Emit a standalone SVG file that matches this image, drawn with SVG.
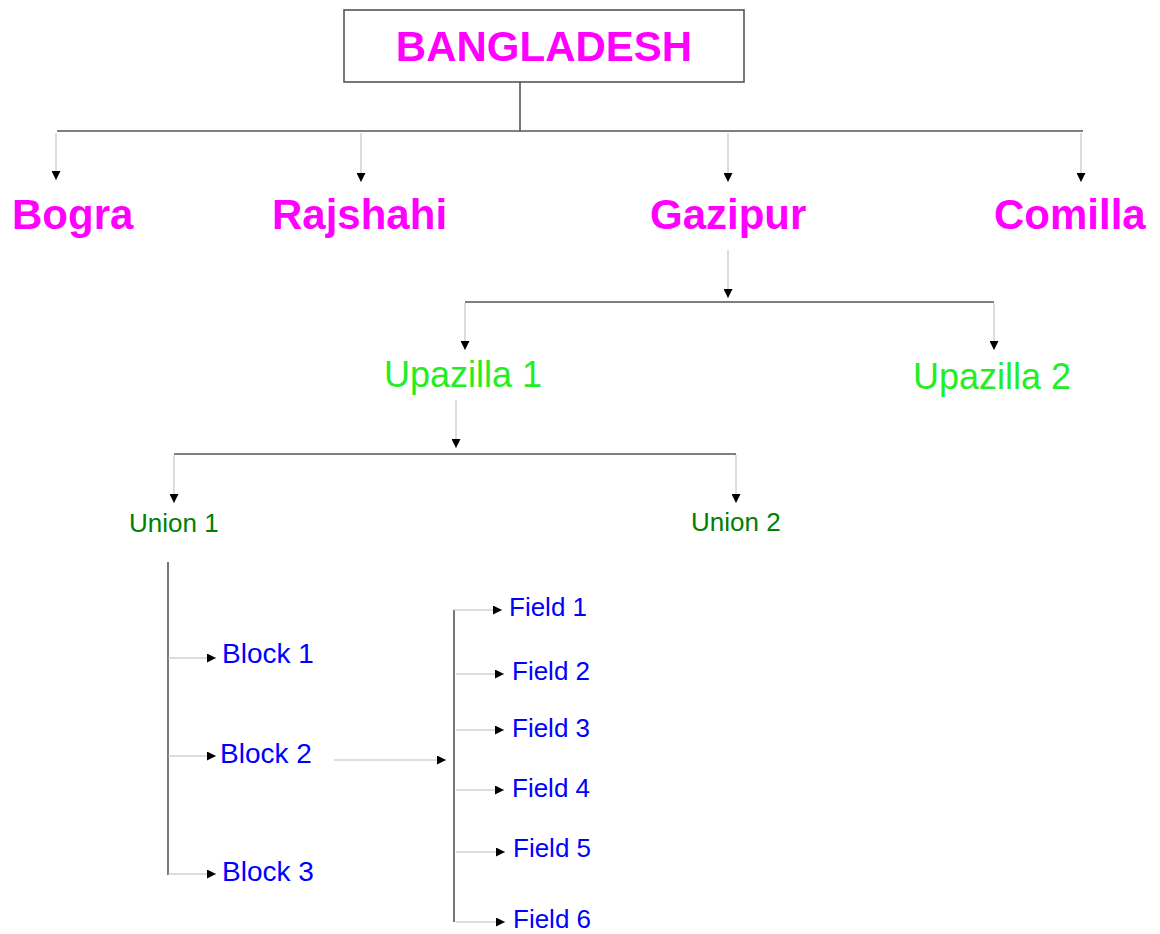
<svg xmlns="http://www.w3.org/2000/svg" width="1160" height="934" viewBox="0 0 1160 934">
  <style>
    text { font-family: "Liberation Sans", Arial, sans-serif; }
    .district { fill: #ff00ff; font-weight: bold; font-size: 42px; }
    .upazilla { fill: #22ee22; font-size: 36px; }
    .union { fill: #008000; font-size: 26px; }
    .block { fill: #0000ff; font-size: 28px; }
    .field { fill: #0000ff; font-size: 26px; }
    .trunk { stroke: #555; stroke-width: 1.6; fill: none; }
    .drop { stroke: #bbb; stroke-width: 1; fill: none; marker-end: url(#arrow); }
    .plain { stroke: #bbb; stroke-width: 1; fill: none; }
  </style>
  <defs>
    <marker id="arrow" markerUnits="userSpaceOnUse" markerWidth="9" markerHeight="9" refX="9" refY="4.5" orient="auto">
      <path d="M0,0 L9,4.5 L0,9 z" fill="#000"/>
    </marker>
  </defs>
  <rect width="1160" height="934" fill="#fff"/>

  <g id="connectors">
    <!-- Bangladesh to districts -->
    <line class="trunk" x1="520" y1="82" x2="520" y2="131"/>
    <line class="trunk" x1="57" y1="131" x2="1083" y2="131"/>
    <line class="drop" x1="56" y1="133" x2="56" y2="180"/>
    <line class="drop" x1="361" y1="133" x2="361" y2="182"/>
    <line class="drop" x1="728" y1="133" x2="728" y2="182"/>
    <line class="drop" x1="1081" y1="133" x2="1081" y2="182"/>
    <!-- Gazipur to upazillas -->
    <line class="drop" x1="728" y1="250" x2="728" y2="298"/>
    <line class="trunk" x1="465" y1="302" x2="994" y2="302"/>
    <line class="drop" x1="465" y1="303" x2="465" y2="350"/>
    <line class="drop" x1="994" y1="303" x2="994" y2="350"/>
    <!-- Upazilla 1 to unions -->
    <line class="drop" x1="456" y1="400" x2="456" y2="448"/>
    <line class="trunk" x1="174" y1="454" x2="736" y2="454"/>
    <line class="drop" x1="174" y1="455" x2="174" y2="503"/>
    <line class="drop" x1="736" y1="455" x2="736" y2="503"/>
    <!-- Union 1 to blocks -->
    <line class="trunk" x1="168" y1="562" x2="168" y2="875"/>
    <line class="drop" x1="168" y1="658" x2="216" y2="658"/>
    <line class="drop" x1="168" y1="756" x2="216" y2="756"/>
    <line class="drop" x1="168" y1="874" x2="216" y2="874"/>
    <!-- Block 2 to fields -->
    <line class="drop" x1="334" y1="760" x2="446" y2="760"/>
    <line class="trunk" x1="454" y1="610" x2="454" y2="922"/>
    <line class="drop" x1="454" y1="610" x2="502" y2="610"/>
    <line class="drop" x1="456" y1="674" x2="504" y2="674"/>
    <line class="drop" x1="456" y1="730" x2="504" y2="730"/>
    <line class="drop" x1="456" y1="790" x2="504" y2="790"/>
    <line class="drop" x1="456" y1="852" x2="505" y2="852"/>
    <line class="drop" x1="456" y1="922" x2="505" y2="922"/>
  </g>

  <g id="bangladesh">
    <rect x="344" y="10" width="400" height="72" fill="#fff" stroke="#555" stroke-width="1.6"/>
    <text class="district" x="544" y="61" text-anchor="middle">BANGLADESH</text>
  </g>

  <g id="bogra"><text class="district" x="12" y="229">Bogra</text></g>
  <g id="rajshahi"><text class="district" x="272" y="229">Rajshahi</text></g>
  <g id="gazipur"><text class="district" x="650" y="229">Gazipur</text></g>
  <g id="comilla"><text class="district" x="994" y="229">Comilla</text></g>

  <g id="upazilla1"><text class="upazilla" x="384" y="387">Upazilla 1</text></g>
  <g id="upazilla2"><text class="upazilla" x="913" y="389">Upazilla 2</text></g>

  <g id="union1"><text class="union" x="129" y="532">Union 1</text></g>
  <g id="union2"><text class="union" x="691" y="531">Union 2</text></g>

  <g id="block1"><text class="block" x="222" y="663">Block 1</text></g>
  <g id="block2"><text class="block" x="220" y="763">Block 2</text></g>
  <g id="block3"><text class="block" x="222" y="881">Block 3</text></g>

  <g id="field1"><text class="field" x="509" y="616">Field 1</text></g>
  <g id="field2"><text class="field" x="512" y="680">Field 2</text></g>
  <g id="field3"><text class="field" x="512" y="737">Field 3</text></g>
  <g id="field4"><text class="field" x="512" y="797">Field 4</text></g>
  <g id="field5"><text class="field" x="513" y="857">Field 5</text></g>
  <g id="field6"><text class="field" x="513" y="928">Field 6</text></g>
</svg>
